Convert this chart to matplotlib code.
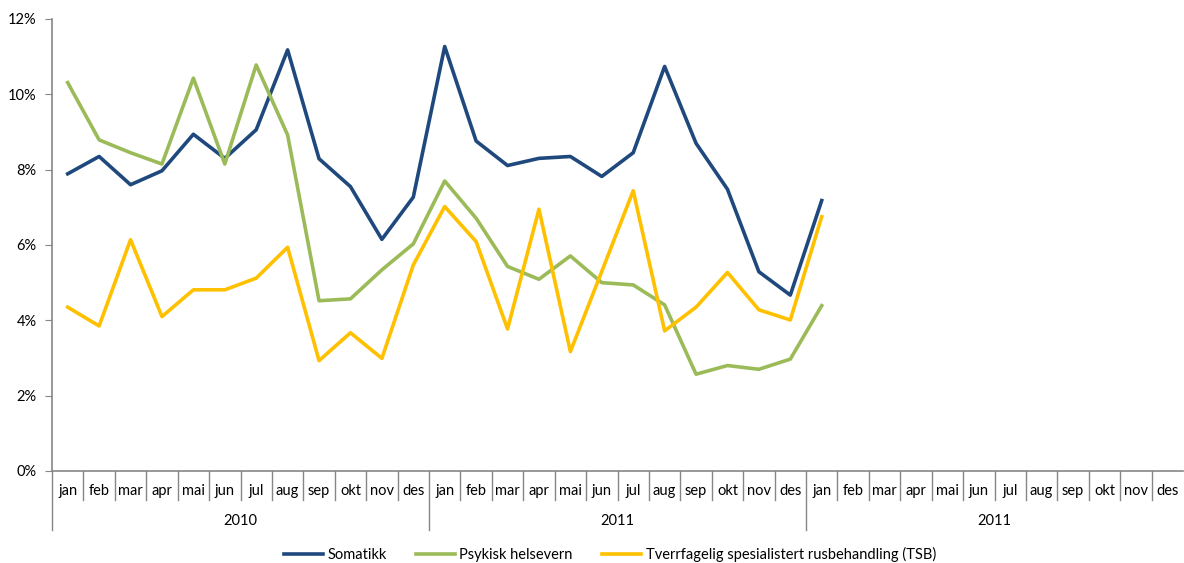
import numpy as np
import matplotlib
matplotlib.use("Agg")
import matplotlib.pyplot as plt
import matplotlib.transforms as mtransforms
from matplotlib.ticker import FuncFormatter

plt.rcParams['font.family'] = ['Lato', 'DejaVu Sans']

months = ["jan", "feb", "mar", "apr", "mai", "jun", "jul", "aug", "sep", "okt", "nov", "des"]
years = ["2010", "2011", "2011"]

# values in percent, 2010 jan .. 2012 jan (rest empty)
somatikk = [7.89, 8.35, 7.60, 7.97, 8.94, 8.30, 9.06, 11.18, 8.29, 7.55, 6.15, 7.27,
            11.27, 8.76, 8.11, 8.30, 8.35, 7.82, 8.45, 10.74, 8.70, 7.48, 5.29, 4.67,
            7.18]
psykisk = [10.31, 8.79, 8.45, 8.15, 10.43, 8.15, 10.78, 8.92, 4.52, 4.57, 5.34, 6.03,
           7.70, 6.71, 5.43, 5.09, 5.71, 5.00, 4.94, 4.41, 2.57, 2.80, 2.70, 2.97,
           4.39]
tsb = [4.35, 3.85, 6.14, 4.10, 4.81, 4.81, 5.12, 5.94, 2.93, 3.67, 2.99, 5.47,
       7.02, 6.09, 3.77, 6.95, 3.17, 5.30, 7.44, 3.72, 4.35, 5.27, 4.28, 4.01,
       6.75]

n_cat = len(months) * len(years)

fig = plt.figure(figsize=(11.84, 5.63), dpi=100)
ax = fig.add_axes([52 / 1184, 1 - 471 / 563, (1183 - 52) / 1184, (471 - 19) / 563])

x = np.arange(len(somatikk))
ax.plot(x, somatikk, color="#1F497D", lw=2.6, label="Somatikk", solid_joinstyle="round")
ax.plot(x, psykisk, color="#9BBB59", lw=2.6, label="Psykisk helsevern", solid_joinstyle="round")
ax.plot(x, tsb, color="#FFC000", lw=2.6, label="Tverrfagelig spesialistert rusbehandling (TSB)",
        solid_joinstyle="round")

ax.set_xlim(-0.5, n_cat - 0.5)
ax.set_ylim(0, 12)
ax.set_yticks(np.arange(0, 13, 2))
ax.yaxis.set_major_formatter(FuncFormatter(lambda v, p: f"{v:.0f}%"))
ax.tick_params(axis="y", direction="out", length=5, color="#868686", labelsize=10.5, pad=6)
ax.set_xticks([])

for s in ["top", "right"]:
    ax.spines[s].set_visible(False)
for s in ["left", "bottom"]:
    ax.spines[s].set_color("#868686")
    ax.spines[s].set_linewidth(1.2)

# multi-level category axis
trans = mtransforms.blended_transform_factory(ax.transData, ax.transAxes)
h = 452.0
for i in range(n_cat):
    xb = i - 0.5
    depth = 59 if i % 12 == 0 else 29
    ax.plot([xb, xb], [0, -depth / h], color="#868686", lw=1, transform=trans, clip_on=False)

for i in range(n_cat):
    ax.text(i, -20 / h, months[i % 12], transform=trans, ha="center", va="center", fontsize=10.5)

for k, yr in enumerate(years):
    ax.text(k * 12 + 5.5, -50 / h, yr, transform=trans, ha="center", va="center", fontsize=10.5)

leg = fig.legend(loc="lower center", bbox_to_anchor=(0.515, -0.022), ncol=3, frameon=False,
                 fontsize=10.5, handlelength=2.7, columnspacing=2.0, handletextpad=0.3)

fig.savefig("out.png", dpi=100, facecolor="white")
